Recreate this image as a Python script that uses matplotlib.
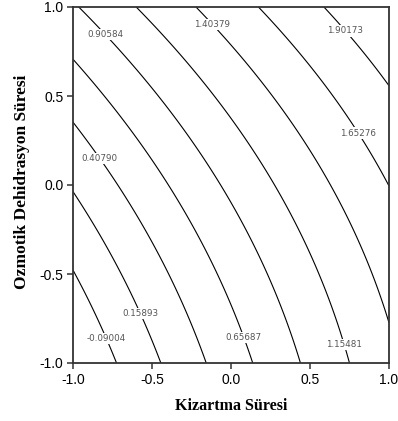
import numpy as np
import matplotlib
matplotlib.use("Agg")
import matplotlib.pyplot as plt

b0, b1, b2 = 0.95441, 0.73671, 0.50172
b11, b22, b12 = -0.03620, 0.08867, -0.10856

levels = [-0.09004, 0.15893, 0.40790, 0.65687, 0.90584, 1.15481, 1.40379, 1.65276, 1.90173]
label_pos = [(-0.785, -0.86), (-0.57, -0.72), (-0.848, 0.14), (0.076, -0.86),
             (-0.785, 0.854), (0.709, -0.9), (-0.101, 0.916), (0.797, 0.287), (0.709, 0.854)]
ticks = [-1.0, -0.5, 0.0, 0.5, 1.0]
xlabel = "Kizartma Süresi"
ylabel = "Ozmotik Dehidrasyon Süresi"

gx = np.linspace(-1, 1, 301)
gy = np.linspace(-1, 1, 301)
X, Y = np.meshgrid(gx, gy)
Z = b0 + b1*X + b2*Y + b11*X**2 + b22*Y**2 + b12*X*Y

fig = plt.figure(figsize=(3.98, 4.21), dpi=100)
ax = fig.add_axes([73/398, 1-363/421, 316/398, 356/421])
cs = ax.contour(X, Y, Z, levels=levels, colors="black", linewidths=0.8,
                linestyles="solid", zorder=2)
ax.clabel(cs, levels, inline=False, fmt="%.5f", manual=label_pos,
          fontsize=6.3, colors="#555555")
for t in cs.labelTexts:
    t.set_rotation(0)
    t.set_bbox(dict(facecolor="white", edgecolor="none", pad=0.8))
    t.set_fontfamily("DejaVu Sans")
    t.set_zorder(5)

ax.set_xlim(-1, 1)
ax.set_ylim(-1, 1)
ax.set_xticks(ticks)
ax.set_yticks(ticks)
ax.set_xticklabels([f"{t:.1f}" for t in ticks])
ax.set_yticklabels([f"{t:.1f}" for t in ticks])
ax.tick_params(direction="out", length=4, width=1.1, color="#333333",
               labelsize=10, pad=3)
for lab in ax.get_xticklabels() + ax.get_yticklabels():
    lab.set_fontfamily("Liberation Sans")
for s in ax.spines.values():
    s.set_linewidth(1.3)
    s.set_color("#333333")
    s.set_zorder(6)
ax.set_xlabel(xlabel, fontfamily="Liberation Serif", fontweight="bold",
              fontsize=11.5, labelpad=8)
ax.set_ylabel(ylabel, fontfamily="Liberation Serif", fontweight="bold",
              fontsize=12.5)
ax.yaxis.set_label_coords(-0.135, 0.51)
fig.savefig("out.png", dpi=100)
